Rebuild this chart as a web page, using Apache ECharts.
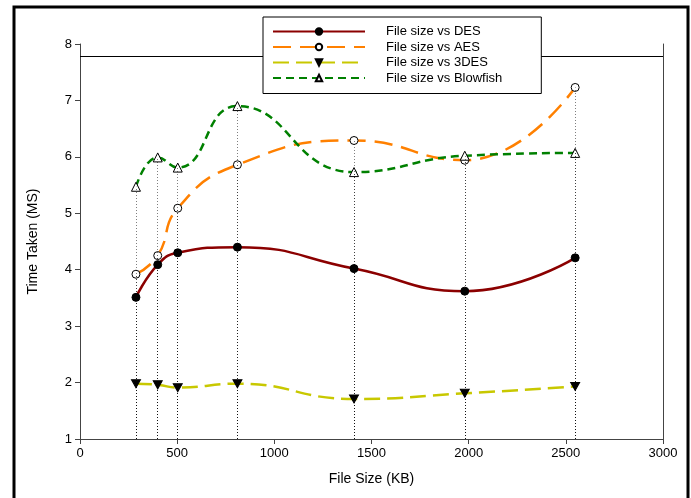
<!DOCTYPE html>
<html>
<head>
<meta charset="utf-8">
<script src="https://cdn.jsdelivr.net/npm/echarts@6/dist/echarts.min.js"></script>
<style>
  html, body { margin: 0; padding: 0; background: #fff; }
  #chart { width: 691px; height: 498px; }
</style>
</head>
<body>
<div id="chart"></div>
<script>
// file sizes (KB) and times (MS)
const fileSizes = [288, 400, 503, 810, 1410, 1980, 2548];
const desTimes = [3.51, 4.09, 4.30, 4.40, 4.02, 3.62, 4.21];
const aesTimes = [3.92, 4.25, 5.09, 5.86, 6.29, 5.94, 7.23];
const tdesTimes = [1.98, 1.96, 1.91, 1.98, 1.71, 1.81, 1.93];
const blowfishTimes = [5.47, 5.99, 5.81, 6.90, 5.73, 6.02, 6.07];
const seriesNames = ['File size vs DES', 'File size vs AES', 'File size vs 3DES', 'File size vs Blowfish'];
const xTicks = [0, 500, 1000, 1500, 2000, 2500, 3000];
const yTicks = [1, 2, 3, 4, 5, 6, 7, 8];
const frameLineY = 7.78;

const font = '"Liberation Sans", Arial, sans-serif';

function pairs (vals) {
    return fileSizes.map(function (x, i) { return [x, vals[i]]; });
}

// dotted drop lines, drawn from the axis up so the dots line up between series
function dropLines (vals) {
    return {
        silent: true,
        symbol: 'none',
        label: { show: false },
        lineStyle: { color: '#000', type: [1, 2], width: 1, opacity: 0.5 },
        data: fileSizes.map(function (x, i) {
            return [{ coord: [x, yTicks[0]] }, { coord: [x, vals[i]] }];
        })
    };
}

function makeSeries (name, vals, color, dash, symbol, symbolColor, symbolSize) {
    return {
        name: name,
        type: 'line',
        smooth: 0.5,
        data: pairs(vals),
        symbol: symbol,
        symbolSize: symbolSize,
        itemStyle: { color: symbolColor, borderColor: '#000', borderWidth: 1 },
        lineStyle: { color: color, width: 2.5, type: dash },
        markLine: dropLines(vals),
        z: 3
    };
}

const chart = echarts.init(document.getElementById('chart'));
const series = [
    makeSeries(seriesNames[0], desTimes, '#8b0000', 'solid', 'circle', '#000', 8),
    makeSeries(seriesNames[1], aesTimes, '#ff8000', [18, 9], 'circle', '#fff', 8),
    makeSeries(seriesNames[2], tdesTimes, '#c8c800', [16, 7], 'path://M0,0L10,0L5,9Z', '#000', [9, 8]),
    makeSeries(seriesNames[3], blowfishTimes, '#008000', [8, 5], 'triangle', '#fff', 9)
];
// thin frame line just under the top of the plot
series.push({
    type: 'line',
    data: [],
    silent: true,
    markLine: {
        silent: true,
        symbol: 'none',
        label: { show: false },
        lineStyle: { color: '#000', type: 'solid', width: 1, opacity: 1 },
        data: [[{ coord: [xTicks[0], frameLineY] }, { coord: [xTicks[xTicks.length - 1], frameLineY] }]]
    }
});

chart.setOption({
    backgroundColor: '#fff',
    animation: false,
    textStyle: { fontFamily: font },
    grid: { left: 80, right: 28, top: 44, bottom: 59 },
    legend: {
        data: seriesNames,
        orient: 'vertical',
        left: 263,
        top: 17,
        padding: [7, 39, 8, 9],
        itemWidth: 92,
        itemHeight: 8,
        itemGap: 0.5,
        backgroundColor: '#fff',
        borderColor: '#000',
        borderWidth: 1,
        borderRadius: 0,
        textStyle: { fontFamily: font, fontSize: 13, color: '#000', lineHeight: 15, padding: [0, 0, 0, 16] },
        z: 10
    },
    xAxis: {
        type: 'value',
        min: xTicks[0],
        max: xTicks[xTicks.length - 1],
        interval: 500,
        name: 'File Size (KB)',
        nameLocation: 'middle',
        nameGap: 33,
        nameTextStyle: { fontFamily: font, fontSize: 14, color: '#000' },
        axisLine: { show: true, lineStyle: { color: '#444', width: 1 } },
        axisTick: { show: true, length: 5, lineStyle: { color: '#444' } },
        axisLabel: { fontFamily: font, fontSize: 13, color: '#000', margin: 8, formatter: function (v) { return String(v); } },
        splitLine: { show: false }
    },
    yAxis: [{
        type: 'value',
        min: yTicks[0],
        max: yTicks[yTicks.length - 1],
        interval: 1,
        name: 'Time Taken (MS)',
        nameLocation: 'middle',
        nameGap: 40,
        nameTextStyle: { fontFamily: font, fontSize: 14, color: '#000' },
        axisLine: { show: true, lineStyle: { color: '#444', width: 1 } },
        axisTick: { show: true, length: 5, lineStyle: { color: '#444' } },
        axisLabel: { fontFamily: font, fontSize: 13, color: '#000', margin: 8 },
        splitLine: { show: false }
    }, {
        type: 'value',
        position: 'right',
        min: yTicks[0],
        max: yTicks[yTicks.length - 1],
        interval: 1,
        axisLine: { show: true, lineStyle: { color: '#444', width: 1 } },
        axisTick: { show: false },
        axisLabel: { show: false },
        splitLine: { show: false }
    }],
    graphic: [{
        type: 'rect',
        shape: { x: 14, y: 7, width: 674, height: 510 },
        style: { fill: 'none', stroke: '#000', lineWidth: 3 },
        silent: true
    }],
    series: series
});
</script>
</body>
</html>
